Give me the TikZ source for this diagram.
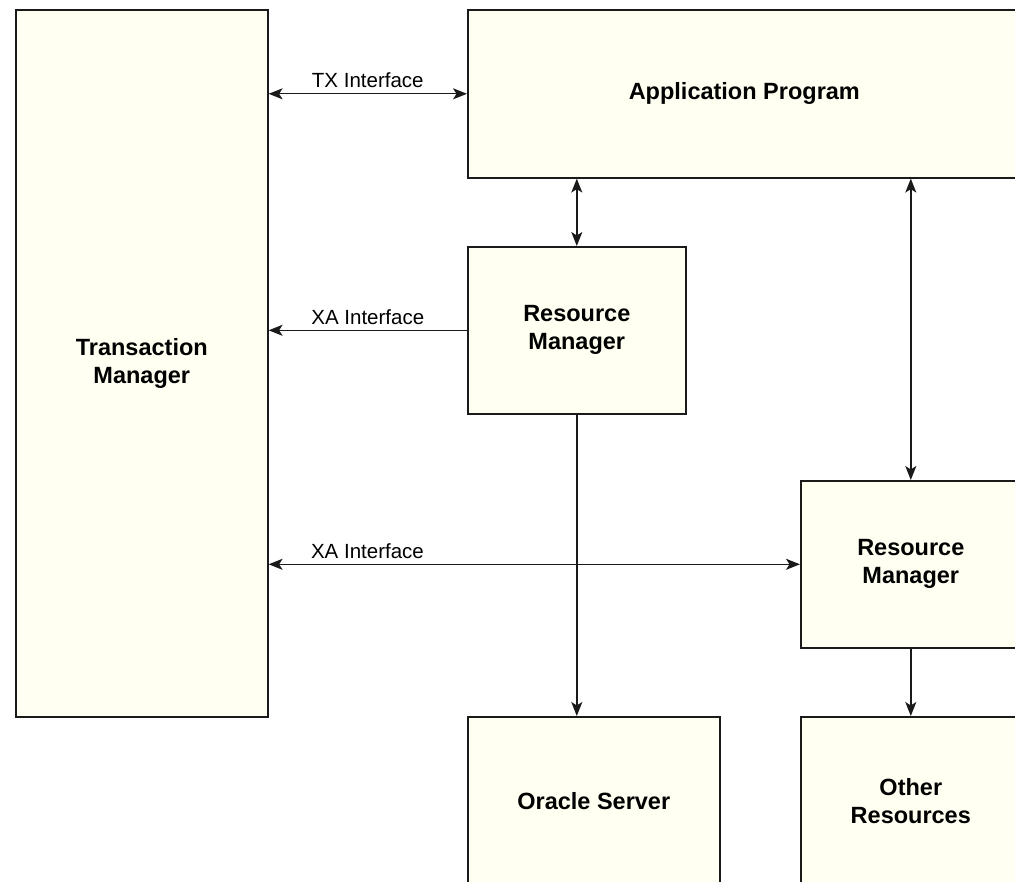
\documentclass[tikz,border=0pt]{standalone}
\usepackage{fontspec}
\setmainfont{Liberation Sans}
\usetikzlibrary{arrows.meta}
\definecolor{boxfill}{HTML}{FFFFF2}
\definecolor{edge}{HTML}{1A1A1A}

\begin{document}
\begin{tikzpicture}[x=1pt, y=-1pt,
	>={Stealth[length=14pt, width=11pt, inset=3.5pt]},
	box/.style={draw=edge, line width=1.6pt, fill=boxfill, anchor=north west, inner sep=0pt, align=center, font=\fontsize{23.5}{28}\selectfont\bfseries},
	link/.style={draw=edge, line width=1.4pt, ->},
	dlink/.style={draw=edge, line width=1.4pt, <->},
	lbl/.style={font=\fontsize{20.5}{24}\selectfont, above=2pt}]
		\useasboundingbox (0,0) rectangle (1015,882);
		\clip (0,0) rectangle (1015,882);

		\node[box, minimum width=252pt, minimum height=707pt] (tm) at (15,9) {Transaction\\Manager};
		\node[box, minimum width=553pt, minimum height=168pt] (app) at (467,9) {Application Program};
		\node[box, minimum width=218pt, minimum height=167pt] (rm1) at (467,246) {Resource\\Manager};
		\node[box, minimum width=220pt, minimum height=167pt] (rm2) at (800,480) {Resource\\Manager};
		\node[box, minimum width=252pt, minimum height=168pt] (ora) at (467,716) {Oracle Server};
		\node[box, minimum width=220pt, minimum height=168pt] (oth) at (800,716) {Other\\Resources};

		\draw[dlink] (tm.east |- app.west) -- node[lbl] {TX Interface} (app.west);
		\draw[link] (rm1.west) -- node[lbl] {XA Interface} (tm.east |- rm1.west);
		\draw[dlink] (tm.east |- rm2.west) -- node[lbl, pos=0.186] {XA Interface} (rm2.west);

		\draw[dlink] (app.south -| rm1.north) -- (rm1.north);
		\draw[dlink] (app.south -| rm2.north) -- (rm2.north);
		\draw[link] (rm1.south) -- (rm1.south |- ora.north);
		\draw[link] (rm2.south) -- (oth.north);

	\end{tikzpicture}
\end{document}
